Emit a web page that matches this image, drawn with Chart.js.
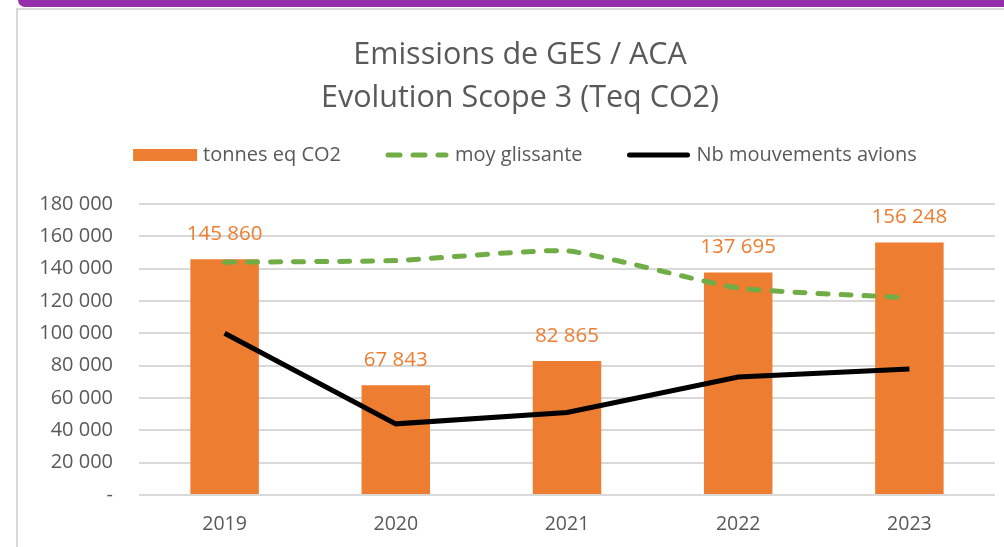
<!DOCTYPE html>
<html>
<head>
<meta charset="utf-8">
<script src="https://cdn.jsdelivr.net/npm/chart.js@4"></script>
<style>
  html, body { margin: 0; padding: 0; background: #fff; width: 1004px; height: 547px; overflow: hidden; }
  .topbar { position: absolute; left: 18px; top: 0; width: 1000px; height: 7px; background: #952fa9; border-bottom-left-radius: 12px; }
  .frame { position: absolute; left: 16px; top: 8px; width: 1000px; height: 560px; border-left: 2px solid #d9d9d9; border-top: 2px solid #d9d9d9; }
  .wrap { position: absolute; left: 18px; top: 10px; width: 1004px; height: 537px; }
</style>
</head>
<body>
<div class="topbar"></div>
<div class="frame"></div>
<div class="wrap"><canvas id="chart"></canvas></div>
<script>
// Data
const years = ['2019', '2020', '2021', '2022', '2023'];
const tonnesCO2 = [145860, 67843, 82865, 137695, 156248];
const moyGlissante = [144000, 145000, 151000, 128000, 122000];
const mouvementsAvions = [100000, 44000, 51000, 73000, 78000];
const titleLines = ['Emissions de GES / ACA', 'Evolution Scope 3 (Teq CO2)'];
const seriesNames = ['tonnes eq CO2', 'moy glissante', 'Nb mouvements avions'];

const ORANGE = '#ed7d31';
const GREEN = '#70ad47';
const GREY_TEXT = '#595959';
const FONT = '"Open Sans", Lato, sans-serif';

function fmt(v) {
  return String(v).replace(/\B(?=(\d{3})+(?!\d))/g, ' ');
}

// title, legend and value labels drawn on the canvas
const decorations = {
  id: 'decorations',
  afterDatasetsDraw(chart) {
    const ctx = chart.ctx;
    ctx.save();

    // value labels above the bars (bar dataset is the last one)
    ctx.font = '20.5px ' + FONT;
    ctx.fillStyle = ORANGE;
    ctx.textAlign = 'center';
    ctx.textBaseline = 'middle';
    chart.getDatasetMeta(2).data.forEach((bar, i) => {
      ctx.fillText(fmt(tonnesCO2[i]), bar.x, bar.y - 25);
    });

    // title
    ctx.font = '30.5px ' + FONT;
    ctx.fillStyle = GREY_TEXT;
    ctx.fillText(titleLines[0], 502, 45);
    ctx.fillText(titleLines[1], 502, 88);

    // legend
    ctx.font = '20px ' + FONT;
    ctx.textAlign = 'left';
    const symW = 64, gapSym = 6, gapItem = 44;
    const widths = seriesNames.map(n => ctx.measureText(n).width);
    let total = widths.reduce((a, w) => a + symW + gapSym + w, 0) + gapItem * 2;
    let x = 507 - total / 2;
    const y = 145;
    seriesNames.forEach((name, i) => {
      if (i === 0) {
        ctx.fillStyle = ORANGE;
        ctx.fillRect(x, y - 6, symW, 12);
      } else {
        ctx.beginPath();
        ctx.lineCap = 'round';
        ctx.lineWidth = 5;
        ctx.strokeStyle = i === 1 ? GREEN : '#000';
        ctx.setLineDash(i === 1 ? [12, 13] : []);
        ctx.moveTo(x + 3, y);
        ctx.lineTo(x + symW - 3, y);
        ctx.stroke();
        ctx.setLineDash([]);
      }
      ctx.fillStyle = GREY_TEXT;
      ctx.fillText(name, x + symW + gapSym, y);
      x += symW + gapSym + widths[i] + gapItem;
    });
    ctx.restore();
  }
};

new Chart(document.getElementById('chart'), {
  type: 'bar',
  data: {
    labels: years,
    datasets: [
      {
        type: 'line',
        label: seriesNames[2],
        data: mouvementsAvions,
        borderColor: '#000',
        borderWidth: 5,
        pointRadius: 0,
        tension: 0,
        order: 0
      },
      {
        type: 'line',
        label: seriesNames[1],
        data: moyGlissante,
        borderColor: GREEN,
        borderWidth: 5,
        borderDash: [10, 13],
        borderCapStyle: 'round',
        pointRadius: 0,
        tension: 0.15,
        order: 1
      },
      {
        label: seriesNames[0],
        data: tonnesCO2,
        backgroundColor: ORANGE,
        categoryPercentage: 1,
        barPercentage: 0.4,
        order: 2
      }
    ]
  },
  options: {
    responsive: true,
    maintainAspectRatio: false,
    animation: false,
    layout: { padding: { top: 194, right: 27, bottom: 0, left: 0 } },
    plugins: {
      legend: { display: false },
      title: { display: false },
      tooltip: { enabled: false }
    },
    scales: {
      x: {
        grid: { display: false },
        border: { display: false },
        ticks: { color: GREY_TEXT, font: { family: FONT, size: 19.5 }, padding: 10 },
        afterFit(scale) { scale.height = 52; }
      },
      y: {
        min: 0,
        max: 180000,
        grid: { color: '#d9d9d9', lineWidth: 2, drawTicks: false },
        border: { display: false },
        ticks: {
          stepSize: 20000,
          color: GREY_TEXT,
          font: { family: FONT, size: 20 },
          padding: 26,
          callback: v => v === 0 ? '-' : fmt(v)
        },
        afterFit(scale) { scale.width = 121; }
      }
    }
  },
  plugins: [decorations]
});
</script>
</body>
</html>
